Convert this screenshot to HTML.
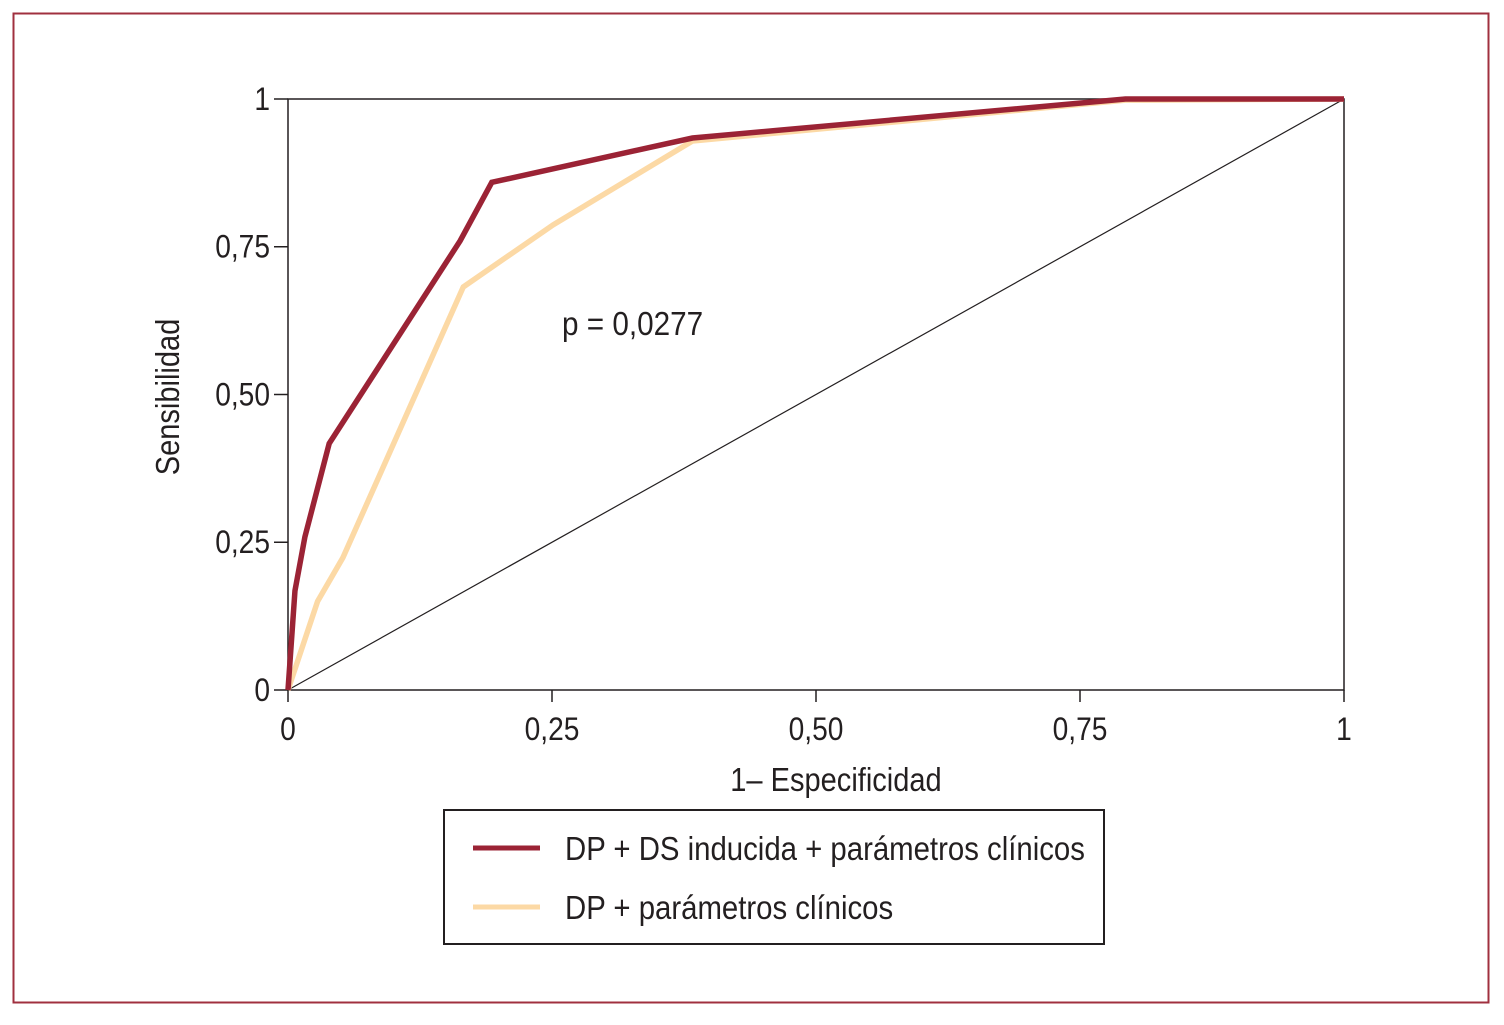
<!DOCTYPE html>
<html><head><meta charset="utf-8"><style>
body{margin:0;background:#fff;}
svg text{font-family:"Liberation Sans",sans-serif;fill:#231f20;}
</style></head><body>
<svg width="1504" height="1020" xmlns="http://www.w3.org/2000/svg">
<rect x="13.5" y="13.5" width="1475" height="989" fill="none" stroke="#a0303f" stroke-width="2"/>
<g id="plot"></g>
<g>
<rect x="444" y="810" width="660" height="134" fill="#fff" stroke="#231f20" stroke-width="2"/>
<line x1="473" y1="848" x2="540" y2="848" stroke="#9b2335" stroke-width="5"/>
<text x="565" y="860" font-size="33" transform="translate(565 0) scale(0.89 1) translate(-565 0)">DP + DS inducida + parámetros clínicos</text>
<line x1="473" y1="907" x2="540" y2="907" stroke="#fcd9a5" stroke-width="5"/>
<text x="565" y="919" font-size="33" transform="translate(565 0) scale(0.89 1) translate(-565 0)">DP + parámetros clínicos</text>
</g>
</svg>
<script>
const xTicks=[0,0.25,0.5,0.75,1];
const xTickLabels=["0","0,25","0,50","0,75","1"];
const yTicks=[0,0.25,0.5,0.75,1];
const yTickLabels=["0","0,25","0,50","0,75","1"];
const darkX=[0,0.0066,0.016,0.039,0.163,0.193,0.383,0.793,1];
const darkY=[0,0.168,0.259,0.417,0.760,0.859,0.934,1,1];
const lightX=[0,0.028,0.052,0.166,0.251,0.383,0.793,1];
const lightY=[0,0.15,0.224,0.682,0.787,0.929,0.998,1];
const pText="p = 0,0277";

const NS="http://www.w3.org/2000/svg";
const X0=288,X1=1344,Y0=690,Y1=99;
const sx=v=>X0+v*(X1-X0);
const sy=v=>Y0-v*(Y0-Y1);
const g=document.getElementById('plot');
function mk(tag,attrs){const e=document.createElementNS(NS,tag);for(const k in attrs)e.setAttribute(k,attrs[k]);g.appendChild(e);return e;}
let e;
e=mk('rect',{x:X0,y:Y1,width:X1-X0,height:Y0-Y1,fill:'none',stroke:'#231f20','stroke-width':1.5});


e=mk('line',{x1:sx(0),y1:sy(0),x2:sx(1),y2:sy(1),stroke:'#231f20','stroke-width':1.2});


xTicks.forEach((t,i)=>{
 e=mk('line',{x1:sx(t),y1:Y0,x2:sx(t),y2:Y0+12,stroke:'#231f20','stroke-width':1.5});
 
 
 e=mk('text',{x:sx(t),y:Y0+50,'font-size':32,'text-anchor':'middle',transform:`translate(${sx(t)} 0) scale(0.88 1) translate(${-sx(t)} 0)`});
 e.textContent=xTickLabels[i];
 
 
});
yTicks.forEach((t,i)=>{
 e=mk('line',{x1:X0-14,y1:sy(t),x2:X0,y2:sy(t),stroke:'#231f20','stroke-width':1.5});
 
 
 e=mk('text',{x:X0-18,y:sy(t)+11,'font-size':32,'text-anchor':'end',transform:`translate(${X0-18} 0) scale(0.88 1) translate(${-(X0-18)} 0)`});
 e.textContent=yTickLabels[i];
 
 
});
function line(xs,ys,col,name){
 const d=xs.map((x,i)=>(i?'L':'M')+sx(x)+' '+sy(ys[i])).join(' ');
 const p=mk('path',{d:d,fill:'none',stroke:col,'stroke-width':5.5,'stroke-linejoin':'miter'});
 
 
}
line(lightX,lightY,'#fcd9a5','series-dp-clinicos');
line(darkX,darkY,'#9b2335','series-dp-ds-clinicos');
e=mk('text',{x:562,y:335,'font-size':33,transform:'translate(562 0) scale(0.9 1) translate(-562 0)'});
e.textContent=pText;


e=mk('text',{x:836,y:791,'font-size':33,'text-anchor':'middle',transform:'translate(836 0) scale(0.88 1) translate(-836 0)'});
e.textContent='1– Especificidad';


e=mk('text',{x:0,y:0,'font-size':33,'text-anchor':'middle',transform:'translate(179 397) rotate(-90) scale(0.88 1)'});
e.textContent='Sensibilidad';


</script>
</body></html>
